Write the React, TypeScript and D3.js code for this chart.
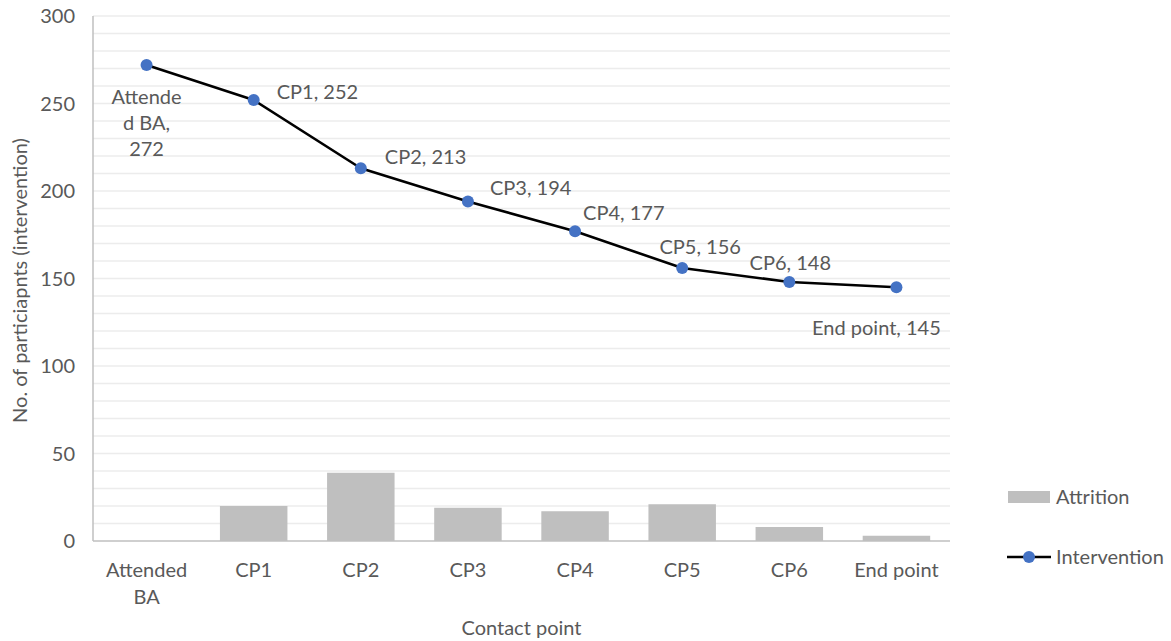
import React from "react";
import * as d3 from "d3";

const categories = ["Attended BA", "CP1", "CP2", "CP3", "CP4", "CP5", "CP6", "End point"];
const categoryLines = [["Attended", "BA"], ["CP1"], ["CP2"], ["CP3"], ["CP4"], ["CP5"], ["CP6"], ["End point"]];
const intervention = [272, 252, 213, 194, 177, 156, 148, 145];
const attrition = [0, 20, 39, 19, 17, 21, 8, 3];
const yTicks = [0, 50, 100, 150, 200, 250, 300];

// placement of the data labels relative to each point (dx, dy, anchor)
const labelPlace: [number, number, string][] = [
  [0, 32, "middle"],
  [23, -8, "start"],
  [24, -11, "start"],
  [22, -14, "start"],
  [8, -18, "start"],
  [18, -21, "middle"],
  [1, -19, "middle"],
  [-20, 41, "middle"],
];

const FONT = "Lato, 'Open Sans', sans-serif";
const TEXT = "#595959";
const FS = 20;

export default function App() {
  const margin = { left: 93, right: 221, top: 16, bottom: 100 };
  const width = 1171;
  const height = 641;

  const x = d3
    .scaleBand<string>()
    .domain(categories)
    .range([margin.left, width - margin.right])
    .padding(0);
  const y = d3.scaleLinear().domain([0, 300]).range([height - margin.bottom, margin.top]);

  const barW = x.bandwidth() * 0.63;
  const cx = (i: number) => (x(categories[i]) as number) + x.bandwidth() / 2;

  const line = d3
    .line<number>()
    .x((_, i) => cx(i))
    .y((d) => y(d));

  const minor = d3.range(10, 301, 10);

  return (
    <svg
      width={width}
      height={height}
      style={{ position: "fixed", left: 0, top: 0, background: "#fff" }}
      fontFamily={FONT}
    >
      {minor.map((v) => (
        <line key={v} x1={margin.left} x2={width - margin.right} y1={y(v)} y2={y(v)} stroke="#ececec" strokeWidth={1.5} />
      ))}
      <line x1={margin.left} x2={margin.left} y1={y(300)} y2={y(0)} stroke="#bfbfbf" strokeWidth={1.5} />
      <line x1={margin.left} x2={width - margin.right} y1={y(0)} y2={y(0)} stroke="#bfbfbf" strokeWidth={1.5} />

      {yTicks.map((t) => (
        <text key={t} x={75} y={y(t)} dy="0.35em" textAnchor="end" fontSize={FS} fill={TEXT}>
          {t}
        </text>
      ))}

      {attrition.map((v, i) => (
        <rect key={i} x={cx(i) - barW / 2} width={barW} y={y(v)} height={y(0) - y(v)} fill="#bfbfbf" />
      ))}

      <path d={line(intervention) ?? ""} fill="none" stroke="#000" strokeWidth={2.6} strokeLinejoin="round" />
      {intervention.map((v, i) => (
        <circle key={i} cx={cx(i)} cy={y(v)} r={6} fill="#4472c4" />
      ))}

      {intervention.map((v, i) => {
        const [dx, dy, anchor] = labelPlace[i];
        if (i === 0) {
          const lines = ["Attende", "d BA,", String(v)];
          return (
            <text key={i} x={cx(i) + dx} y={y(v) + dy} textAnchor={anchor} fontSize={FS} fill={TEXT}>
              {lines.map((l, j) => (
                <tspan key={j} x={cx(i) + dx} dy={j === 0 ? "0.35em" : 26}>
                  {l}
                </tspan>
              ))}
            </text>
          );
        }
        return (
          <text key={i} x={cx(i) + dx} y={y(v) + dy} dy="0.35em" textAnchor={anchor} fontSize={FS} fill={TEXT}>
            {`${categories[i]}, ${v}`}
          </text>
        );
      })}

      {categoryLines.map((ls, i) => (
        <text key={i} x={cx(i)} y={y(0) + 29} textAnchor="middle" fontSize={FS} fill={TEXT}>
          {ls.map((l, j) => (
            <tspan key={j} x={cx(i)} dy={j === 0 ? "0.35em" : 27}>
              {l}
            </tspan>
          ))}
        </text>
      ))}

      <text
        transform={`translate(20,${(y(0) + y(300)) / 2 + 2}) rotate(-90)`}
        dy="0.35em"
        textAnchor="middle"
        fontSize={FS}
        fill={TEXT}
      >
        No. of particiapnts (intervention)
      </text>
      <text x={(margin.left + width - margin.right) / 2} y={628} dy="0.35em" textAnchor="middle" fontSize={FS} fill={TEXT}>
        Contact point
      </text>

      <rect x={1008} y={491} width={42} height={12} fill="#bfbfbf" />
      <text x={1056} y={497} dy="0.35em" fontSize={FS} fill={TEXT}>
        Attrition
      </text>
      <line x1={1007} x2={1051} y1={557} y2={557} stroke="#000" strokeWidth={2.6} />
      <circle cx={1029} cy={557} r={6} fill="#4472c4" />
      <text x={1056} y={557} dy="0.35em" fontSize={FS} fill={TEXT}>
        Intervention
      </text>
    </svg>
  );
}
